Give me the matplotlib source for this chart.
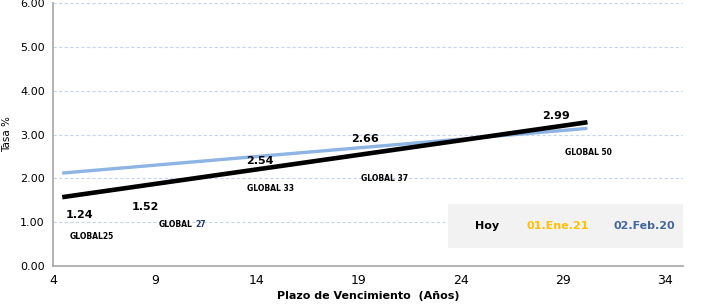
import matplotlib.pyplot as plt
from matplotlib.patches import Rectangle

# trend lines (straight, two end points each)
trend_x = [4.45, 30.2]
hoy_y = [1.57, 3.28]
prev_y = [2.12, 3.14]

# data labels: value, x, y
val_labels = ["1.24", "1.52", "2.54", "2.66", "2.99"]
val_x = [5.32, 8.51, 14.15, 19.29, 28.66]
val_y = [1.16, 1.35, 2.40, 2.90, 3.42]

bond_labels = ["GLOBAL25", "GLOBAL 27", "GLOBAL 33", "GLOBAL 37", "GLOBAL 50"]
bond_x = [5.91, 10.27, 14.64, 20.27, 30.27]
bond_y = [0.68, 0.94, 1.76, 1.99, 2.60]

xticks = [4, 9, 14, 19, 24, 29, 34]
yticks = [0, 1, 2, 3, 4, 5, 6]

plt.rcParams["font.family"] = ["DejaVu Sans"]

fig = plt.figure(figsize=(7.17, 3.05), dpi=100)
ax = fig.add_axes([0.074, 0.128, 0.879, 0.862])

ax.plot(trend_x, prev_y, color="#8DB4E2", lw=2.4, solid_capstyle="butt", zorder=3)
ax.plot(trend_x, hoy_y, color="black", lw=3.3, solid_capstyle="butt", zorder=4)

for t, x, y in zip(val_labels, val_x, val_y):
    ax.text(x, y, t, ha="center", va="center", fontsize=8, fontweight="bold", zorder=5)
for t, x, y in zip(bond_labels, bond_x, bond_y):
    if t == "GLOBAL 27":
        head, tail = t.split(" ")
        ax.annotate(head, (x, y), xytext=(8, 0), textcoords="offset points",
                    ha="right", va="center", fontsize=5.5, fontweight="bold", zorder=5)
        ax.annotate(tail, (x, y), xytext=(10.5, 0), textcoords="offset points",
                    ha="left", va="center", fontsize=5.5, fontweight="bold",
                    color="#1F3A6E", zorder=5)
    else:
        ax.text(x, y, t, ha="center", va="center", fontsize=5.5, fontweight="bold", zorder=5)

ax.set_xlim(4, 34.9)
ax.set_ylim(0, 6)
ax.set_xticks(xticks)
ax.set_yticks(yticks)
ax.set_yticklabels([f"{v:.2f}" for v in yticks], fontsize=8)
ax.set_xticklabels([str(v) for v in xticks], fontsize=9)
ax.tick_params(length=0, pad=6)
ax.grid(axis="y", color="#C5D5EE", linestyle=(0, (3, 2)), lw=0.8)
ax.set_axisbelow(True)
for s in ["top", "right"]:
    ax.spines[s].set_visible(False)
for s in ["left", "bottom"]:
    ax.spines[s].set_color("#A6A6A6")
    ax.spines[s].set_linewidth(1.2)

ax.set_ylabel("Tasa %", fontsize=7.5, labelpad=6)
ax.set_xlabel("Plazo de Vencimiento  (Años)", fontsize=8, fontweight="bold", labelpad=3)

# legend box
ax.add_patch(Rectangle((0.627, 0.068), 0.373, 0.168, transform=ax.transAxes,
                       facecolor="#F2F2F2", edgecolor="none", zorder=2))
ax.text(0.688, 0.152, "Hoy", transform=ax.transAxes, ha="center", va="center",
        fontsize=8, fontweight="bold", color="black", zorder=5)
ax.text(0.80, 0.152, "01.Ene.21", transform=ax.transAxes, ha="center", va="center",
        fontsize=8, fontweight="bold", color="#FFC000", zorder=5)
ax.text(0.938, 0.152, "02.Feb.20", transform=ax.transAxes, ha="center", va="center",
        fontsize=8, fontweight="bold", color="#44679A", zorder=5)

fig.savefig("out.png", dpi=100)
